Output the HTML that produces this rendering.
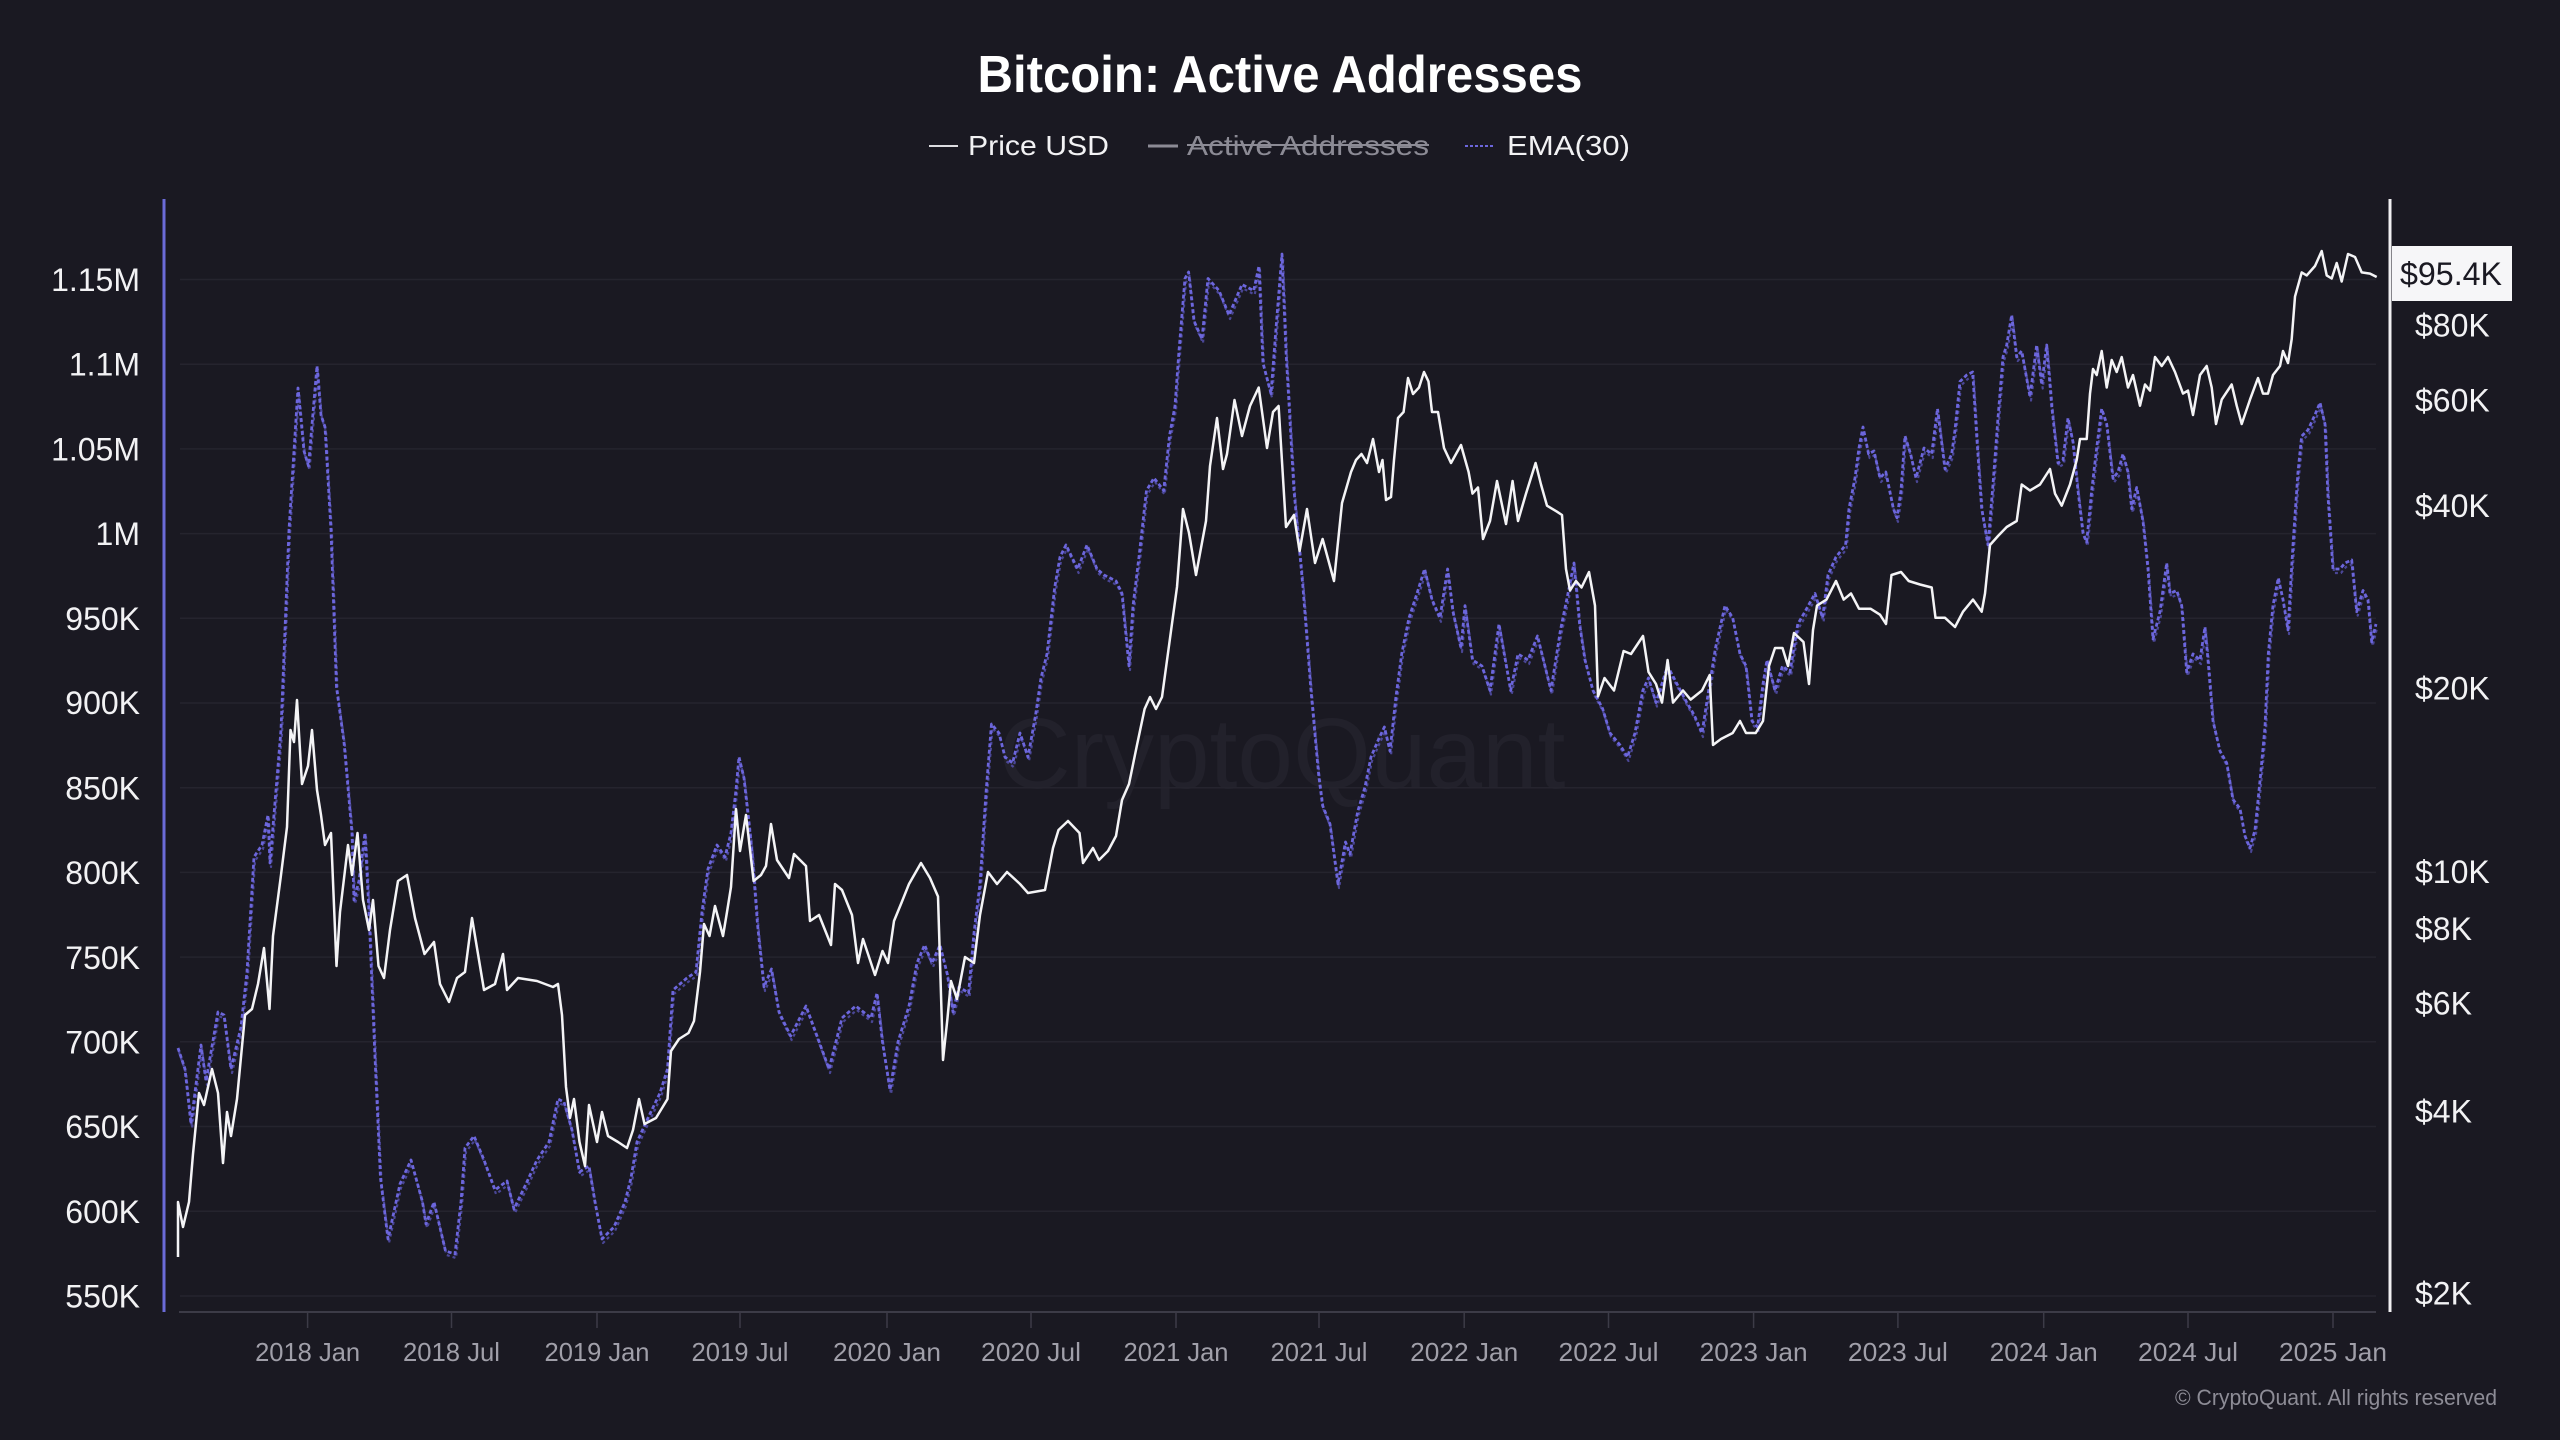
<!DOCTYPE html>
<html>
<head>
<meta charset="utf-8">
<style>
  html,body{margin:0;padding:0;background:#1a1922;}
  svg{display:block;}
  text{font-family:"Liberation Sans",sans-serif;}
</style>
</head>
<body>
<svg width="2560" height="1440" viewBox="0 0 2560 1440" xmlns="http://www.w3.org/2000/svg">
  <defs>
    <polyline id="ema" fill="none" stroke-linejoin="round" points="
178,1048 185,1069 191,1124 201,1045 206,1081 218,1012 224,1015 231,1069 241,1027 247,972 254,857 262,845 268,815 270,863 281,730 289,530 298,388 304,451 308.5,466 317,366 321,415 325,427 331,530 336.5,687 344,742 352,833 354,900 359,881 365,833 369,912 375,1057 380.5,1178 388,1239 400,1184 411,1160 422.5,1202 426,1224 434,1202 445.5,1251 455,1254 461,1202 465,1148 474,1136 484,1160 495,1190 507,1181 514,1209 526,1184 537,1160 549,1142 558,1099 564,1102 572,1130 579.5,1172 589,1166 595,1202 602,1239 614,1227 625,1202 631,1178 637,1142 648,1118 660,1093 667.5,1069 673,990 687,978 696,972 702,912 708,869 717,845 725,857 731,833 736,790 739,757 744,778 752,851 757.5,924 764,987 771.5,969 779,1012 790.6,1036 806,1006 817,1036 829,1069 842,1018 855.7,1006 871,1018 877,993 882.5,1042 890,1090 898,1042 909,1006 917,963 924.6,945 932,963 940,945 947.5,975 953,1012 959,987 968.6,993 974,933 980,884 986,793 991.5,724 999,733 1005,757 1012.6,763 1020,733 1028,757 1035.6,715 1041,678 1047,654 1054.7,587.5 1060,557 1066,545 1077.6,569 1087,545 1097,569 1104,575 1116,581 1122,593.5 1125.5,630 1129,666 1133,606 1139,557 1146.5,490.5 1154,478 1163.7,490.5 1169.5,436 1175,406 1179,351 1185,278.5 1188.6,272 1194,321 1202,339 1208,278.5 1219,290.6 1229,315 1242,284.5 1253.7,290.6 1259,266 1263,363 1271,393.6 1276.6,321 1282,254 1286,351 1294,490.5 1303,587.5 1311,690.5 1318.7,775 1322.6,805.6 1330,824 1338,884 1345.5,842 1350,854 1357.7,811.6 1365,787 1371,757 1378.7,739 1384.4,727 1390,751 1396,696.5 1401.7,654 1409,618 1417,593.5 1424.6,569 1432,599.6 1440,617.8 1447.6,569 1453,611.7 1461,648 1465,605.6 1472.5,660 1482,666 1490,690.5 1499,624 1510.7,690.5 1518,654 1528,660 1537.5,636 1551,690.5 1560.5,630 1568,593.5 1574,563 1579.6,624 1585,660 1593,690.5 1602.6,708.6 1610,733 1620,745 1627.5,757 1635,733 1642.8,690.5 1648.5,678 1656,702.6 1667.6,666 1677,684 1686.8,702.6 1694,714.7 1702,733 1709.7,684 1715.5,648 1725,605.6 1732.7,617.8 1740,654 1746,666 1752,721 1757.6,727 1763,684 1767,660 1775,690.5 1782.5,666 1790,672 1797.8,624 1805,611.7 1815,593.5 1822.6,617.8 1828,575 1836,557 1845.6,545 1849,508.7 1855,478 1859,448 1863,427 1868.6,454 1874,451 1880,478 1885.8,472 1893.4,508.7 1897,517.8 1901,490.5 1905,436 1910.6,454 1916,478 1924,448 1931.7,454 1937.5,408.7 1945,469 1951.7,454 1955,430 1960,381.5 1966.7,375 1972.7,372 1976.7,436 1981.7,508.7 1988,545 1993,484.5 1998,418 2003,357 2006.7,345 2011.7,315 2016.7,357 2021.7,351 2030,396.6 2036.7,345 2041.7,384.5 2046.7,345 2051.7,405.7 2058,463 2063,460 2068,418 2073,442 2078,490.5 2083,533 2086.7,542 2091.7,490.5 2096.7,448 2101.7,408.7 2106.7,424 2113,478.4 2118,472 2123,454 2128,472 2131.7,508.7 2136.7,487.5 2143,521 2148,569 2153,639 2160,611.7 2166.7,563 2170,593.5 2176.7,590.5 2181.7,605.6 2186.7,672 2193,654 2200,660 2205,627 2208,660 2213,721 2220,751 2226.7,763 2233,799.5 2240,808.6 2245,836 2250,848 2255,830 2260,781 2265,727 2268.3,654 2273,605.6 2278.3,578 2283,599.6 2288,630 2293,545 2298,472 2301.7,436 2308,430 2315,414.8 2320,402.7 2325,424 2328,496.6 2333,569 2340,569 2345,563 2351.7,560 2356.7,611.7 2363,590.5 2368,599.6 2371.7,642 2376,624"/>
  </defs>

  <rect x="0" y="0" width="2560" height="1440" fill="#1a1922"/>

  <!-- Title -->
  <text x="1280" y="92" text-anchor="middle" font-size="52" font-weight="bold" fill="#ffffff" textLength="605" lengthAdjust="spacingAndGlyphs">Bitcoin: Active Addresses</text>

  <!-- Legend -->
  <line x1="929" y1="146" x2="958" y2="146" stroke="#dcdce0" stroke-width="2"/>
  <text x="968" y="155" font-size="28" fill="#f2f2f4" textLength="141" lengthAdjust="spacingAndGlyphs">Price USD</text>
  <line x1="1148" y1="146" x2="1178" y2="146" stroke="#8c8b95" stroke-width="3"/>
  <text x="1187" y="155" font-size="28" fill="#8c8b95" textLength="242" lengthAdjust="spacingAndGlyphs">Active Addresses</text>
  <line x1="1187" y1="145" x2="1429" y2="145" stroke="#8c8b95" stroke-width="2"/>
  <line x1="1465" y1="146" x2="1495" y2="146" stroke="#6c66dc" stroke-width="2" stroke-dasharray="3 2"/>
  <text x="1507" y="155" font-size="28" fill="#f2f2f4" textLength="123" lengthAdjust="spacingAndGlyphs">EMA(30)</text>

  <!-- Watermark -->
  <text x="1282" y="788" text-anchor="middle" font-size="100" fill="#22212b">CryptoQuant</text>

  <!-- Gridlines -->
  <g stroke="#25242e" stroke-width="1.5">
    <line x1="180" y1="279.5" x2="2376" y2="279.5"/>
    <line x1="180" y1="364.2" x2="2376" y2="364.2"/>
    <line x1="180" y1="448.9" x2="2376" y2="448.9"/>
    <line x1="180" y1="533.6" x2="2376" y2="533.6"/>
    <line x1="180" y1="618.3" x2="2376" y2="618.3"/>
    <line x1="180" y1="703" x2="2376" y2="703"/>
    <line x1="180" y1="787.7" x2="2376" y2="787.7"/>
    <line x1="180" y1="872.4" x2="2376" y2="872.4"/>
    <line x1="180" y1="957.1" x2="2376" y2="957.1"/>
    <line x1="180" y1="1041.8" x2="2376" y2="1041.8"/>
    <line x1="180" y1="1126.5" x2="2376" y2="1126.5"/>
    <line x1="180" y1="1211.2" x2="2376" y2="1211.2"/>
    <line x1="180" y1="1296" x2="2376" y2="1296"/>
  </g>

  <!-- X axis baseline and ticks -->
  <line x1="179" y1="1312" x2="2376" y2="1312" stroke="#3c3b47" stroke-width="2"/>
  <g stroke="#3c3b47" stroke-width="1.5">
    <line x1="307.6" y1="1312" x2="307.6" y2="1328"/>
    <line x1="451.5" y1="1312" x2="451.5" y2="1328"/>
    <line x1="597" y1="1312" x2="597" y2="1328"/>
    <line x1="740" y1="1312" x2="740" y2="1328"/>
    <line x1="887" y1="1312" x2="887" y2="1328"/>
    <line x1="1031" y1="1312" x2="1031" y2="1328"/>
    <line x1="1176" y1="1312" x2="1176" y2="1328"/>
    <line x1="1319" y1="1312" x2="1319" y2="1328"/>
    <line x1="1464.2" y1="1312" x2="1464.2" y2="1328"/>
    <line x1="1608.5" y1="1312" x2="1608.5" y2="1328"/>
    <line x1="1753.6" y1="1312" x2="1753.6" y2="1328"/>
    <line x1="1897.9" y1="1312" x2="1897.9" y2="1328"/>
    <line x1="2043.7" y1="1312" x2="2043.7" y2="1328"/>
    <line x1="2188" y1="1312" x2="2188" y2="1328"/>
    <line x1="2333" y1="1312" x2="2333" y2="1328"/>
  </g>
  <g font-size="26" fill="#a09fa9" text-anchor="middle">
    <text x="307.6" y="1361" textLength="105" lengthAdjust="spacingAndGlyphs">2018 Jan</text>
    <text x="451.5" y="1361" textLength="97" lengthAdjust="spacingAndGlyphs">2018 Jul</text>
    <text x="597" y="1361" textLength="105" lengthAdjust="spacingAndGlyphs">2019 Jan</text>
    <text x="740" y="1361" textLength="97" lengthAdjust="spacingAndGlyphs">2019 Jul</text>
    <text x="887" y="1361" textLength="108" lengthAdjust="spacingAndGlyphs">2020 Jan</text>
    <text x="1031" y="1361" textLength="100" lengthAdjust="spacingAndGlyphs">2020 Jul</text>
    <text x="1176" y="1361" textLength="105" lengthAdjust="spacingAndGlyphs">2021 Jan</text>
    <text x="1319" y="1361" textLength="97" lengthAdjust="spacingAndGlyphs">2021 Jul</text>
    <text x="1464.2" y="1361" textLength="108" lengthAdjust="spacingAndGlyphs">2022 Jan</text>
    <text x="1608.5" y="1361" textLength="100" lengthAdjust="spacingAndGlyphs">2022 Jul</text>
    <text x="1753.6" y="1361" textLength="108" lengthAdjust="spacingAndGlyphs">2023 Jan</text>
    <text x="1897.9" y="1361" textLength="100" lengthAdjust="spacingAndGlyphs">2023 Jul</text>
    <text x="2043.7" y="1361" textLength="108" lengthAdjust="spacingAndGlyphs">2024 Jan</text>
    <text x="2188" y="1361" textLength="100" lengthAdjust="spacingAndGlyphs">2024 Jul</text>
    <text x="2333" y="1361" textLength="108" lengthAdjust="spacingAndGlyphs">2025 Jan</text>
  </g>

  <!-- Left axis -->
  <line x1="164" y1="199" x2="164" y2="1312" stroke="#6b6bd8" stroke-width="3"/>
  <g font-size="32" fill="#f2f2f4" text-anchor="end">
    <text x="140" y="291">1.15M</text>
    <text x="140" y="375.5">1.1M</text>
    <text x="140" y="460.5">1.05M</text>
    <text x="140" y="545">1M</text>
    <text x="140" y="630">950K</text>
    <text x="140" y="714">900K</text>
    <text x="140" y="799.5">850K</text>
    <text x="140" y="884">800K</text>
    <text x="140" y="969">750K</text>
    <text x="140" y="1053.5">700K</text>
    <text x="140" y="1138">650K</text>
    <text x="140" y="1223">600K</text>
    <text x="140" y="1307.5">550K</text>
  </g>

  <!-- Right axis -->
  <line x1="2390" y1="199" x2="2390" y2="1312" stroke="#f0f0f2" stroke-width="3"/>
  <g font-size="32" fill="#f2f2f4">
    <text x="2415" y="336.5">$80K</text>
    <text x="2415" y="411.5">$60K</text>
    <text x="2415" y="517">$40K</text>
    <text x="2415" y="699.5">$20K</text>
    <text x="2415" y="883">$10K</text>
    <text x="2415" y="940">$8K</text>
    <text x="2415" y="1014.5">$6K</text>
    <text x="2415" y="1122.5">$4K</text>
    <text x="2415" y="1304.5">$2K</text>
  </g>
  <rect x="2392" y="246" width="120" height="55" fill="#f6f6f8"/>
  <text x="2400" y="285" font-size="32" fill="#1a1922" textLength="102" lengthAdjust="spacingAndGlyphs">$95.4K</text>

  <!-- EMA(30) series: band effect -->
  <use href="#ema" transform="translate(1,4)" stroke="#5f5ac8" stroke-width="2.2" stroke-dasharray="3 3" opacity="0.7"/>
  <use href="#ema" stroke="#6c66dc" stroke-width="2.8" stroke-dasharray="4 2.5"/>

  <!-- Price USD series -->
  <polyline fill="none" stroke="#f4f4f6" stroke-width="2.5" stroke-linejoin="round" points="
178,1257 178,1202 183,1227 189,1202 193,1154 199,1093 204,1105 212,1069 218,1093 223,1163 227,1112 231,1136 237,1099 245,1015 252,1009 258,984 264,948 269.5,1009 273,936 281,875 287,827 290.5,730 294,742 297,700 302,784 308,766 312,730 317,790 321,815 325,845 331,833 336.5,966 340,912 348,845 352,875 357.5,833 363,900 369,930 373,900 378.5,966 384,978 390,930 398,881 407,875 415,918 424.5,954 434,942 440,984 449,1002 457,978 465,972 472,918 478,954 484,990 495,984 503,954 507,990 518,978 537,981 553,987 558,984 562,1015 566,1087 570,1118 574,1099 579.5,1142 585,1166 589,1105 597,1142 602,1112 608,1136 618,1142 627,1148 633,1130 639,1099 644.5,1124 656,1118 667.5,1099 671,1051 679,1039 688.5,1033 694,1021 700,972 704,924 709.5,936 715,906 723,936 727,912 731,887 736,809 740,851 746,815 753.6,881 761,875 766,866 771,824 777,860 789,878 794,854 806,866 810,921 819,915 831,945 835,884 842,890 852,915 858,963 863,939 875,975 882.5,951 888,963 894,921 901.6,902.5 909,884 921,863 930,878 938,896.5 943,1060 947.5,1018 951,981 957,999 965,957 974,963 980,915 988,872 997,884 1007,872 1020,884 1028,893 1045,890 1053,848 1058.5,830 1068,821 1079.5,833 1083,863 1093,848 1099,860 1108,851 1116,836 1122,800 1129,784 1137,745 1144.6,709 1150,697 1156,709 1162,697 1169.5,642 1177,587 1183,509 1189,533 1196,575 1206,521 1210,466 1217,418 1223,469 1227,454 1234.5,400 1242,436 1250,406 1258.7,387.5 1267,448 1273,412 1278.6,406 1286,527 1294,515 1299.6,551 1307,509 1315,563 1322.6,539 1334,581 1342,503 1351,472 1356,460 1361.5,454 1367,463 1373,439 1379,472 1382.5,460 1386,500 1391,497 1394,460 1398,418 1403.6,412 1408,378 1413,394 1419,387.5 1424,372 1428.5,381.5 1432,412 1438,412 1444,448 1451,463 1461,445 1468.6,472 1472.5,493.6 1478,487.5 1483,539 1490,521 1497,481 1506,524 1512.6,481 1518,521 1526,493.6 1535.6,463 1541,484.5 1547,505.7 1557,511.7 1562,515 1566,569 1570,590.5 1576,581 1581.5,587.5 1589,572 1595,605.6 1598,696.5 1604.5,678 1614,690.5 1623.6,651 1631,654 1643,636 1648.5,672 1656,684 1662,702.6 1667.6,660 1673,702.6 1683,690.5 1690.6,699.6 1702,690.5 1709.7,675 1713,745 1721,739 1732.7,733 1740,721 1746,733 1755.7,733 1763,721 1769,666 1775,648 1782.5,648 1788,666 1794,633 1803.5,642 1809,684 1813,630 1817,605.6 1826.5,599.6 1836,581 1843.7,599.6 1851,593.5 1859,608.7 1870.5,608.7 1880,614.7 1886,624 1891.5,575 1901,572 1908.7,581 1920,584.5 1931.7,587.5 1935.5,617.8 1945,617.8 1955,627 1963,611.7 1973,599.6 1981.7,611.7 1985,593.5 1990,545 1998,536 2006.7,527 2016.7,521 2021.7,484.5 2030,490.5 2040,484.5 2050,469 2055,493.6 2061.7,505.7 2070,484.5 2076.7,460 2080,439 2086.7,439 2090,393.6 2093,369 2096.7,375 2101.7,351 2106.7,387.5 2111.7,360 2116.7,372 2121.7,357 2128,387.5 2133,375 2140,405.7 2145,384.5 2150,390.6 2155,357 2161.7,366 2168,357 2175,372 2183,393.6 2188,390.6 2193,415 2200,375 2206.7,366 2211.7,387.5 2216,424 2221.7,399.6 2231.7,384.5 2236.7,405.7 2241.7,424 2250,399.6 2258,378 2263,393.6 2268,393.6 2273,375 2280,366 2283,351 2288,363 2291.7,339 2295,296.6 2301.7,272.4 2306.7,275.4 2315,266 2321.7,251 2326.7,275.4 2331.7,278.5 2336.7,263 2341.7,281.5 2348,254 2355,257 2361.7,272.4 2370,273.6 2376.7,277"/>

  <!-- Footer -->
  <text x="2497" y="1405" text-anchor="end" font-size="22" fill="#8d8c96" textLength="322" lengthAdjust="spacingAndGlyphs">© CryptoQuant. All rights reserved</text>
</svg>
</body>
</html>
